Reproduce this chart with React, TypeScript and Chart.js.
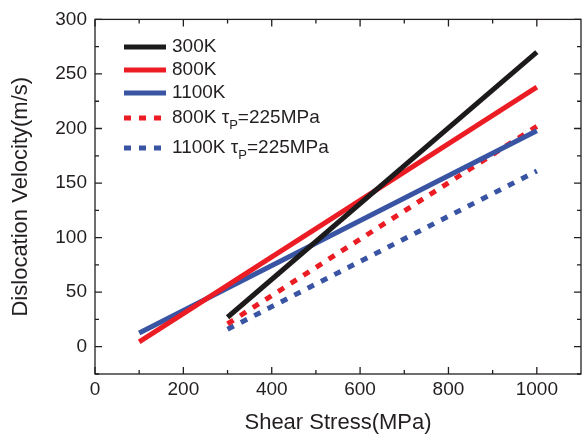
import React, { useEffect, useRef } from "react";
import { Chart, registerables } from "chart.js";

Chart.register(...registerables);

// ---- data ----
const LABELS = ["300K", "800K", "1100K", "800K τ_P=225MPa", "1100K τ_P=225MPa"];
const S300K = [
  { x: 300, y: 27 },
  { x: 1000, y: 270 },
];
const S800K = [
  { x: 100, y: 4.5 },
  { x: 1000, y: 238 },
];
const S1100K = [
  { x: 100, y: 12.5 },
  { x: 1000, y: 198 },
];
const S800K_TP = [
  { x: 300, y: 21 },
  { x: 1000, y: 202 },
];
const S1100K_TP = [
  { x: 300, y: 16 },
  { x: 1000, y: 161 },
];
const X_TICKS = [0, 200, 400, 600, 800, 1000];
const X_MINOR = [100, 300, 500, 700, 900];
const Y_TICKS = [0, 50, 100, 150, 200, 250, 300];
const Y_MINOR = [-25, 25, 75, 125, 175, 225, 275];

const BLACK = "#1c1a1b";
const RED = "#ec1c24";
const BLUE = "#3a54a4";
const TEXT = "#231f20";
const FONT = "'Liberation Sans', Arial, sans-serif";

const framePlugin = {
  id: "frame",
  afterDatasetsDraw(chart: any) {
    const { ctx, chartArea: a, scales } = chart;
    const xs = scales.x;
    const ys = scales.y;
    ctx.save();
    ctx.strokeStyle = TEXT;
    ctx.lineWidth = 1.3;
    ctx.strokeRect(a.left, a.top, a.right - a.left, a.bottom - a.top);
    ctx.beginPath();
    const major = 7;
    const minor = 4;
    X_TICKS.forEach((v) => {
      const p = xs.getPixelForValue(v);
      ctx.moveTo(p, a.bottom);
      ctx.lineTo(p, a.bottom - major);
      ctx.moveTo(p, a.top);
      ctx.lineTo(p, a.top + major);
    });
    X_MINOR.forEach((v) => {
      const p = xs.getPixelForValue(v);
      ctx.moveTo(p, a.bottom);
      ctx.lineTo(p, a.bottom - minor);
      ctx.moveTo(p, a.top);
      ctx.lineTo(p, a.top + minor);
    });
    Y_TICKS.forEach((v) => {
      const p = ys.getPixelForValue(v);
      ctx.moveTo(a.left, p);
      ctx.lineTo(a.left + major, p);
      ctx.moveTo(a.right, p);
      ctx.lineTo(a.right - major, p);
    });
    Y_MINOR.forEach((v) => {
      const p = ys.getPixelForValue(v);
      ctx.moveTo(a.left, p);
      ctx.lineTo(a.left + minor, p);
      ctx.moveTo(a.right, p);
      ctx.lineTo(a.right - minor, p);
    });
    ctx.stroke();
    ctx.restore();
  },
};

const ROW_Y = [47, 70, 93, 118, 148];

const legendPlugin = {
  id: "customLegend",
  afterDraw(chart: any) {
    const { ctx } = chart;
    ctx.save();
    chart.data.datasets.forEach((ds: any, i: number) => {
      const y = ROW_Y[i];
      ctx.beginPath();
      ctx.strokeStyle = ds.borderColor;
      ctx.lineWidth = ds.borderWidth;
      ctx.setLineDash(ds.borderDash || []);
      ctx.lineCap = "butt";
      ctx.moveTo(124, y);
      ctx.lineTo(166, y);
      ctx.stroke();
      ctx.setLineDash([]);
      ctx.fillStyle = TEXT;
      ctx.textBaseline = "middle";
      ctx.textAlign = "left";
      ctx.font = `19px ${FONT}`;
      const label: string = ds.label;
      const m = label.match(/^(.*)_(\w)(.*)$/);
      let x = 172;
      if (m) {
        ctx.fillText(m[1], x, y);
        x += ctx.measureText(m[1]).width;
        ctx.font = `13px ${FONT}`;
        ctx.fillText(m[2], x, y + 7);
        x += ctx.measureText(m[2]).width;
        ctx.font = `19px ${FONT}`;
        ctx.fillText(m[3], x, y);
      } else {
        ctx.fillText(label, x, y);
      }
    });
    ctx.restore();
  },
};

export default function App() {
  const ref = useRef<HTMLCanvasElement | null>(null);
  useEffect(() => {
    document.body.style.margin = "0";
    const canvas = ref.current;
    if (!canvas) return;
    const mk = (label: string, data: any[], color: string, dash?: number[]) => ({
      label,
      data,
      borderColor: color,
      backgroundColor: color,
      borderWidth: 5,
      borderDash: dash,
      borderCapStyle: "butt",
      pointRadius: 0,
      fill: false,
      tension: 0,
    });
    const chart = new Chart(canvas, {
      type: "line",
      data: {
        datasets: [
          mk(LABELS[0], S300K, BLACK),
          mk(LABELS[1], S800K, RED),
          mk(LABELS[2], S1100K, BLUE),
          mk(LABELS[3], S800K_TP, RED, [7, 8]),
          mk(LABELS[4], S1100K_TP, BLUE, [7, 8]),
        ] as any,
      },
      options: {
        animation: false,
        responsive: false,
        devicePixelRatio: 1,
        layout: { padding: { left: 0, right: 1, top: 16, bottom: 0 } },
        plugins: { legend: { display: false }, tooltip: { enabled: false } },
        scales: {
          x: {
            type: "linear",
            min: 0,
            max: 1100,
            grid: { display: false, drawTicks: false },
            border: { display: false },
            afterBuildTicks: (s: any) => {
              s.ticks = X_TICKS.map((v) => ({ value: v }));
            },
            afterFit: (s: any) => {
              s.height = 67;
            },
            ticks: {
              autoSkip: false,
              maxRotation: 0,
              padding: 4,
              color: TEXT,
              font: { family: FONT, size: 19 },
              callback: (v: any) => String(v),
            },
            title: {
              display: true,
              text: "Shear Stress(MPa)",
              color: TEXT,
              font: { family: FONT, size: 22 },
              padding: { top: 0, bottom: 5 },
            },
          },
          y: {
            type: "linear",
            min: -25,
            max: 300,
            grid: { display: false, drawTicks: false },
            border: { display: false },
            afterBuildTicks: (s: any) => {
              s.ticks = Y_TICKS.map((v) => ({ value: v }));
            },
            afterFit: (s: any) => {
              s.width = 95;
            },
            ticks: {
              autoSkip: false,
              padding: 8,
              color: TEXT,
              font: { family: FONT, size: 19 },
              callback: (v: any) => String(v),
            },
            title: {
              display: true,
              text: "Dislocation Velocity(m/s)",
              color: TEXT,
              font: { family: FONT, size: 22 },
              padding: { top: 8, bottom: 0 },
            },
          },
        },
      } as any,
      plugins: [framePlugin, legendPlugin],
    });
    return () => chart.destroy();
  }, []);
  return (
    <div style={{ width: 582, height: 441, background: "#fff" }}>
      <canvas ref={ref} width={582} height={441} style={{ display: "block" }} />
    </div>
  );
}
